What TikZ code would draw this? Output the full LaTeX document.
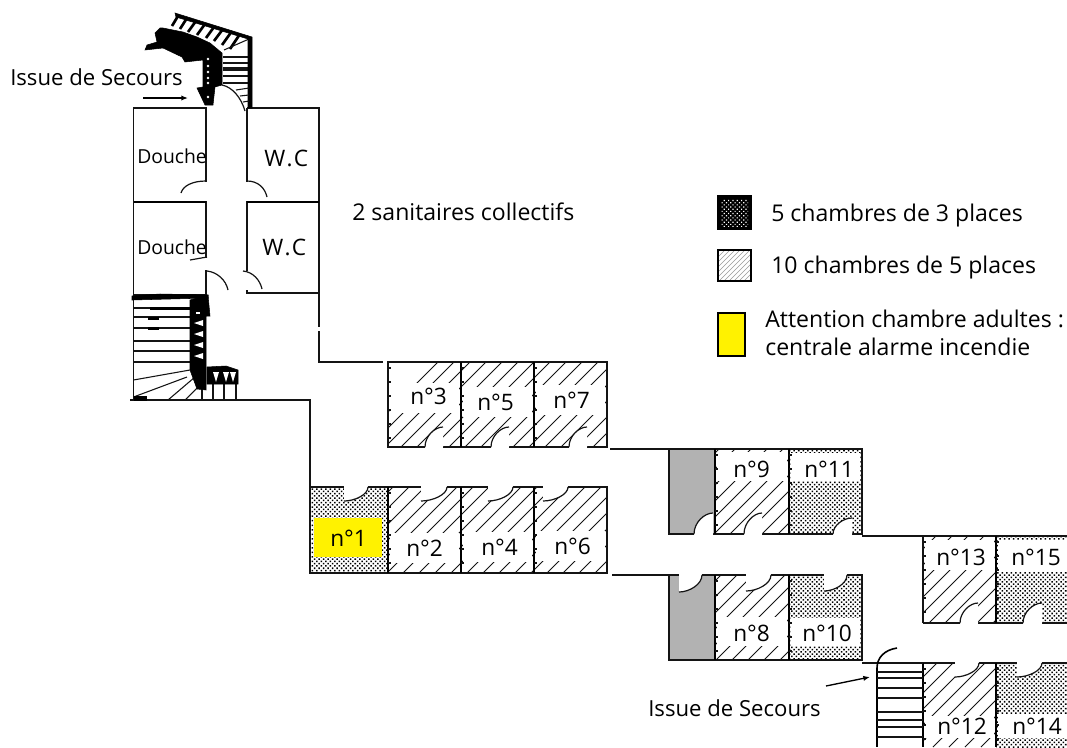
\documentclass[tikz,border=0pt]{standalone}
\usepackage{fontspec}
\setmainfont{Open Sans}
\usetikzlibrary{patterns.meta,arrows.meta}
\definecolor{wallgrey}{RGB}{178,178,178}
\definecolor{ink}{RGB}{20,20,20}
\tikzset{
  x=0.75pt,y=-0.75pt,
  wall/.style={draw=ink,line width=1.1pt},
  thick wall/.style={draw=black,line width=2.1pt},
  hatchline/.style={draw=ink,line width=0.6pt},
  tread/.style={draw=ink,line width=0.8pt},
  swingline/.style={draw=ink,line width=0.9pt},
  label/.style={inner sep=0pt,anchor=base west,text=black,font=\fontsize{17.3}{17.3}\selectfont},
  smalllabel/.style={inner sep=0pt,anchor=base west,text=black,font=\fontsize{14.5}{15}\selectfont},
  exitlabel/.style={inner sep=0pt,anchor=base west,text=black,font=\fontsize{16.6}{17}\selectfont},
  roomno/.style={inner sep=0pt,anchor=base west,text=black,font=\fontsize{17}{17}\selectfont},
  blackfill/.style={fill=black,draw=black,line width=0.4pt},
  pointer/.style={draw=black,line width=1pt,-{Latex[length=5pt,width=4pt]}},
}
% hatched floor
\newcommand{\hatchroom}[4]{%
  \begin{scope}
    \clip (#1,#2) rectangle (#3,#4);
    \foreach \c in {800,816,...,1824}
      \draw[hatchline] ({\c-#2},#2) -- ({\c-#4},#4);
  \end{scope}}
% ticks beside a thick wall
\newcommand{\ticks}[2]{%
  \foreach \t in {0,14,...,70}
    \draw[hatchline,line width=0.8pt] (#1,{#2+6+\t}) -- ({#1+3},{#2+6+\t});}
% dotted floor
\newcommand{\dotroom}[4]{%
  \fill[pattern={Dots[distance=2.4pt,radius=0.8pt,angle=45]},pattern color=black] (#1,#2) rectangle (#3,#4);}
% white label patch
\newcommand{\patch}[4]{\fill[white] (#1,#2) rectangle (#3,#4);}
% door: leaf on the wall at a, arc to b
\newcommand{\door}[4]{%
  \fill[white] (#1,#2) .. controls (#1,{#2+0.55*(#4-#2)}) and ({#3-0.45*(#3-#1)},#4) .. (#3,#4) -- (#3,#2) -- cycle;
  \fill[white] (#1,{#2-1.5}) rectangle (#3,{#2+1.5});
  \draw[swingline] (#1,#2) .. controls (#1,{#2+0.55*(#4-#2)}) and ({#3-0.45*(#3-#1)},#4) .. (#3,#4);}
\begin{document}
\begin{tikzpicture}
\useasboundingbox (0,0) rectangle (1067,747);
\fill[white] (0,0) rectangle (1067,747);
\begin{scope}
\clip (0,0) rectangle (1067,747);

% ---------- floors
\hatchroom{388}{362}{461}{447}\hatchroom{461}{362}{534}{447}\hatchroom{534}{362}{607}{447}
\dotroom{310}{487}{388}{573}
\hatchroom{388}{487}{461}{573}\hatchroom{461}{487}{534}{573}\hatchroom{534}{487}{607}{573}
\fill[wallgrey] (669,449) rectangle (715,534);
\fill[wallgrey] (669,575) rectangle (715,660);
\hatchroom{715}{449}{789}{534}\dotroom{789}{449}{862}{534}
\hatchroom{715}{575}{789}{660}\dotroom{789}{575}{862}{660}
\hatchroom{923}{536}{996}{623}\dotroom{996}{536}{1067}{623}
\hatchroom{923}{663}{996}{747}\dotroom{996}{663}{1067}{747}

% ---------- label patches
\patch{390}{383}{459}{413}\patch{463}{387}{532}{417}\patch{536}{385}{605}{415}
\fill[yellow] (314,518) rectangle (382,557);
\patch{390}{533}{459}{563}\patch{463}{532}{532}{562}\patch{536}{531}{605}{561}
\patch{717}{452}{787}{481}\patch{791}{453}{860}{481}
\patch{717}{617}{787}{646}\patch{791}{618}{860}{646}
\patch{925}{540}{994}{570}\patch{998}{540}{1067}{572}
\patch{925}{716}{994}{738}\patch{998}{714}{1067}{738}

% ---------- outlines
\draw[wall] (388,362) rectangle (607,447);
\draw[wall] (310,487) rectangle (607,573);
\draw[wall] (669,449) rectangle (862,534);
\draw[wall] (669,575) rectangle (862,660);
\draw[wall] (923,623) -- (923,536) -- (1067,536);
\draw[wall] (923,623) -- (1067,623);
\draw[wall] (923,663) -- (1067,663);
\foreach \xa/\ya/\yb in {461/362/447,534/362/447,388/487/573,461/487/573,534/487/573,715/449/534,789/449/534,715/575/660,789/575/660,996/536/623,996/663/747}
  \draw[thick wall] (\xa,\ya) -- (\xa,\yb);
\draw[thick wall] (923,663) -- (923,747);
\ticks{388}{362}\ticks{461}{362}\ticks{534}{362}
\ticks{388}{487}\ticks{461}{487}\ticks{534}{487}
\ticks{715}{449}\ticks{789}{449}\ticks{715}{575}\ticks{789}{575}
\ticks{923}{536}\ticks{996}{536}\ticks{923}{663}\ticks{996}{663}

% ---------- corridor walls
\draw[wall] (319,293) -- (319,327);
\draw[wall] (319,331) -- (319,362) -- (383,362);
\draw[wall] (130,400) -- (310,400) -- (310,487);
\draw[wall] (610,449) -- (669,449);
\draw[wall] (612,575) -- (669,575);
\draw[wall] (862,536) -- (923,536);
\draw[wall] (862,663) -- (923,663);

% ---------- doors
\door{425}{447}{443}{427}\door{491}{447}{509}{427}\door{569}{447}{587}{427}
\door{368}{487}{344}{501}\door{447}{487}{421}{501}\door{513}{487}{488}{501}\door{568}{487}{543}{501}
\door{694}{534}{713}{513}\door{744}{534}{762}{513}\door{833}{534}{852}{518}
\door{702}{575}{679}{592}\door{771}{575}{746}{591}\door{847}{575}{824}{591}
\door{960}{623}{978}{603}\door{1023}{623}{1042}{603}
\door{979}{663}{955}{677}\door{1042}{663}{1017}{677}

% ---------- sanitary block
\draw[wall] (133.5,108) rectangle (206,295);
\draw[wall] (133.5,108) -- (133.5,400);
\draw[wall] (247,108) -- (319,108) -- (319,293);
\draw[wall] (247,108) -- (247,271);
\draw[wall] (247,290) -- (247,293) -- (319,293);
\draw[thick wall,line width=1.6pt] (133.5,202) -- (206,202);
\draw[thick wall,line width=1.6pt] (247,202) -- (319,202);
\fill[white] (204,258) rectangle (208,270);
\fill[white] (204,182) rectangle (208,201);
\fill[white] (245,182) rectangle (249,201);
\draw[swingline] (206,181) .. controls (192,181) and (183,186) .. (181,193);
\draw[swingline] (247,181) .. controls (258,181) and (265,188) .. (267,197);
\draw[swingline] (207,257) -- (190,260);
\draw[swingline] (207,271) .. controls (217,272) and (226,280) .. (228,290);
\draw[swingline] (243,271) .. controls (253,272) and (260,280) .. (262,289);

% ---------- upper staircase
\fill[white] (206,40) rectangle (247,107);
\foreach \xa/\ya/\xb/\yb in {172/26/178/16,180/29/187/18,188/32/196/21,197/35/205/24,206/38/214/27,214/41/223/29,222/45/232/31,230/49/240/34}
  \draw[draw=black,line width=2pt] (\xa,\ya) -- (\xb,\yb);
\draw[tread] (224,50) -- (249,39);
\foreach \yy in {57,63,70,76,83}
  \draw[tread,line width=1.4pt] (223,\yy) -- (249,\yy);
\foreach \yy in {68}
  \draw[tread] (223,\yy) -- (249,\yy);
\fill[blackfill] (175,13) -- (252,37) -- (252,108) -- (248,108) -- (248,39) -- (176,17) -- cycle;
\fill[blackfill] (160,28) -- (155,33) -- (157,42) -- (147,45) -- (145,50) -- (163,48) -- (182,57) -- (185,62) -- (203,60) -- (203,87) -- (197,88) -- (205,105) -- (213,105) -- (215,87) -- (222,85) -- (222,53) -- (210,43) -- (197,37) -- (183,32) -- (163,28) -- cycle;
\foreach \yy in {59,66,72,78,83,97}
  \fill[white] (208,\yy) circle (1pt);
\draw[swingline] (222,85) .. controls (232,87) and (241,97) .. (245,111);
\foreach \xa/\ya/\xb/\yb in {236/90/249/88,240/96/249/95,243/102/249/101}
  \draw[tread] (\xa,\ya) -- (\xb,\yb);

% ---------- lower staircase
\foreach \yy in {308,317,328,341,351,362}
  \draw[tread] (133.5,\yy) -- (190,\yy);
\draw[tread] (190,370) -- (133.5,380);
\draw[tread] (187,377) -- (133.5,397);
\draw[tread] (195,377) -- (168,400);
\draw[tread] (198,387) -- (185,400);
\foreach \xx in {202,213,224,236}
  \draw[tread] (\xx,383) -- (\xx,400);
\fill[blackfill] (132,296) -- (160,294) -- (208,295) -- (208,298) -- (132,300) -- cycle;
\fill[blackfill] (190,300) -- (208,295) -- (210,316) -- (206,316) -- (206,390) -- (197,389) -- (190,370) -- cycle;
\fill[blackfill] (207,367) -- (226,366) -- (238,370) -- (238,384) -- (207,384) -- cycle;
\fill[blackfill] (150,307) rectangle (190,309);
\fill[blackfill] (148,317) rectangle (158,319);
\fill[blackfill] (148,327) rectangle (158,329);
\fill[blackfill] (134,396) rectangle (146,400);
\foreach \yy in {323,334,345,356}
  \fill[white] (194,\yy) -- (203,{\yy-3}) -- (203,{\yy+3}) -- cycle;
\fill[white] (196,312) rectangle (200,314);
\foreach \xx in {216,226,233}
  \fill[white] ({\xx-3},372) -- ({\xx+3},372) -- (\xx,382) -- cycle;

% ---------- lower right staircase
\draw[thick wall] (877,668) -- (877,747);
\foreach \yy in {672,678,688,698,712,720,727,737}
  \draw[draw=ink,line width=1pt] (877,\yy) -- (923,\yy);
\draw[draw=black,line width=1.2pt] (877,668) .. controls (877,658) and (884,650) .. (897,648);

% ---------- legend
\fill[black] (717,195) rectangle (752,230);
\fill[pattern={Dots[distance=2.3pt,radius=0.62pt,angle=45]},pattern color=white] (721,199) rectangle (748,226);
\begin{scope}
  \clip (718,250) rectangle (751,281);
  \foreach \c in {960,965,...,1040}
    \draw[draw=gray!80,line width=0.5pt] ({\c-250},250) -- ({\c-281},281);
\end{scope}
\draw[draw=black,line width=2pt] (718,250) rectangle (751,281);
\draw[draw=black,fill=yellow,line width=2pt] (718,313) rectangle (745,356);

% ---------- texts
\node[label] (l1) at (771,221) {5 chambres de 3 places};
\node[label] (l2) at (771,273) {10 chambres de 5 places};
\node[label] (l3) at (765,327) {Attention chambre adultes :};
\node[label] (l4) at (765,355) {centrale alarme incendie};
\node[label] (san) at (352,220) {2 sanitaires collectifs};
\node[exitlabel] (is1) at (10,85) {Issue de Secours};
\node[exitlabel] (is2) at (648,716) {Issue de Secours};
\node[smalllabel] (d1) at (137,163) {Douche};
\node[smalllabel] (d2) at (137,254) {Douche};
\node[roomno] (wc1) at (264,166) {W\kern1pt.\kern1pt C};
\node[roomno] (wc2) at (262,255) {W\kern1pt.\kern1pt C};
\foreach \nm/\txt/\xx/\yy in {r3/3/410/404,r5/5/477/410,r7/7/553/408,r1/1/330/546,r2/2/406/556,r4/4/481/555,r6/6/554/554,r9/9/733/477,r11/11/804/477,r8/8/733/641,r10/10/802/641,r13/13/936/565,r15/15/1011/565,r12/12/937/734,r14/14/1012/734}
  \node[roomno] (\nm) at (\xx,\yy) {n°\txt};

% ---------- exit pointers
\coordinate (ap1) at (143,98);
\coordinate (ap2) at (188,98);
\coordinate (bp1) at (826,686);
\coordinate (bp2) at (870,677);
\draw[pointer] (ap1) -- (ap2);
\draw[pointer] (bp1) -- (bp2);
\end{scope}
\end{tikzpicture}
\end{document}
